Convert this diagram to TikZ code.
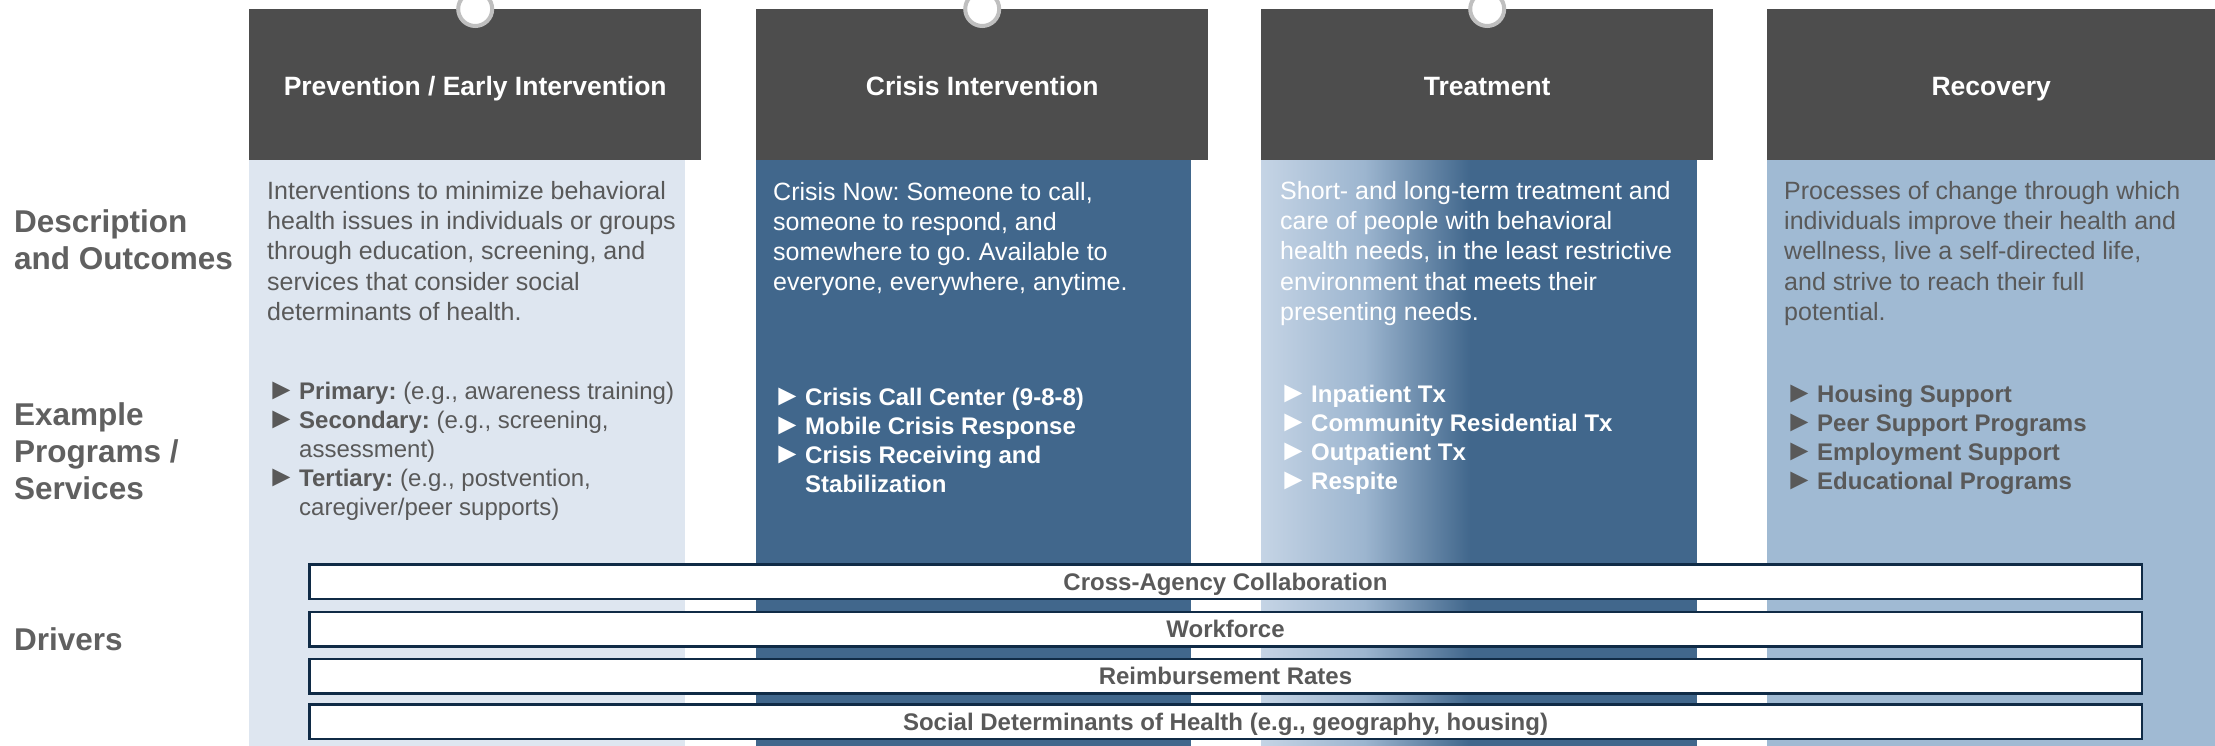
\documentclass[tikz,border=0pt]{standalone}
\usepackage{graphicx}
\usepackage{fontspec}
\setmainfont{Liberation Sans}
\definecolor{hdr}{RGB}{77,77,77}
\definecolor{cone}{RGB}{222,230,240}
\definecolor{ctwo}{RGB}{65,103,140}
\definecolor{cfour}{RGB}{160,186,211}
\definecolor{gone}{RGB}{197,212,229}
\definecolor{gtwo}{RGB}{156,181,207}
\definecolor{txtgray}{RGB}{89,89,89}
\definecolor{lblgray}{RGB}{96,96,96}
\definecolor{ring}{RGB}{191,191,191}
\definecolor{barline}{RGB}{16,43,70}
\frenchspacing
\newcommand\Ln[1]{\hbox{\strut#1}}
\newcommand\Bu[1]{\hbox{\strut\hbox to 31pt{\hskip-1.5pt\scalebox{1.25}{►}\hss}#1}}
\newcommand\Bc[1]{\hbox{\strut\hskip31pt #1}}
\begin{document}
\begin{tikzpicture}[x=1pt,y=-1pt,
  hdrbox/.style={fill=hdr,inner sep=0,minimum width=452,minimum height=151,anchor=north west,
    text=white,font=\fontsize{26.5}{30}\selectfont\bfseries,text height=22,text depth=0},
  bodybox/.style={inner sep=0,minimum width=436,minimum height=586,anchor=north west},
  pin/.style={circle,draw=ring,line width=4,fill=white,minimum size=34,inner sep=0},
  desc/.style={inner sep=0,anchor=base west,font=\fontsize{25}{30}\selectfont},
  bul/.style={inner sep=0,anchor=base west,font=\fontsize{24}{29}\selectfont},
  rowlbl/.style={inner sep=0,anchor=base west,text=lblgray,font=\fontsize{31.5}{37}\selectfont\bfseries},
  driver/.style={draw=barline,line width=2.5,fill=white,inner sep=0,minimum width=1832.5,minimum height=34.5,
    text=txtgray,font=\fontsize{24}{29}\selectfont\bfseries,text height=17,text depth=0}]
\useasboundingbox (0,0) rectangle (2215,746);
\fill[white] (0,0) rectangle (2215,746);
% column bodies
\node[bodybox,fill=cone] (b1) at (249,160) {};
\node[bodybox,fill=ctwo,minimum width=435] (b2) at (756,160) {};
\node[bodybox,fill=ctwo] (b3) at (1261,160) {};
\shade[left color=gone,right color=gtwo] (1261,160) rectangle (1365,746);
\shade[left color=gtwo,right color=ctwo] (1364.5,160) rectangle (1470,746);
\node[bodybox,fill=cfour,minimum width=448] (b4) at (1767,160) {};
% headers
\node[hdrbox] (h1) at (249,9) {Prevention / Early Intervention};
\node[hdrbox] (h2) at (756,9) {Crisis Intervention};
\node[hdrbox] (h3) at (1261,9) {Treatment};
\node[hdrbox,minimum width=448] (h4) at (1767,9) {Recovery};
% pins
\node[pin] (p1) at (h1.north) {};
\node[pin] (p2) at (h2.north) {};
\node[pin] (p3) at (h3.north) {};
% row labels
\node[rowlbl] (l1) at (14,232) {\vtop{\Ln{Description}\Ln{and Outcomes}}};
\node[rowlbl] (l2) at (14,425) {\vtop{\Ln{Example}\Ln{Programs /}\Ln{Services}}};
\node[rowlbl] (l3) at (14,650) {\vtop{\Ln{Drivers}}};
% column 1
\node[desc,text=txtgray] (d1) at (267,200) {\vtop{%
  \Ln{Interventions to minimize behavioral}
  \Ln{health issues in individuals or groups}
  \Ln{through education, screening, and}
  \Ln{services that consider social}
  \Ln{determinants of health.}}};
\node[bul,text=txtgray] (s1) at (268,399) {\vtop{%
  \Bu{\textbf{Primary:} (e.g., awareness training)}
  \Bu{\textbf{Secondary:} (e.g., screening,}
  \Bc{assessment)}
  \Bu{\textbf{Tertiary:} (e.g., postvention,}
  \Bc{caregiver/peer supports)}}};
% column 2
\node[desc,text=white] (d2) at (773,200.5) {\vtop{%
  \Ln{Crisis Now: Someone to call,}
  \Ln{someone to respond, and}
  \Ln{somewhere to go. Available to}
  \Ln{everyone, everywhere, anytime.}}};
\node[bul,text=white,font=\fontsize{24}{29}\selectfont\bfseries] (s2) at (774,405) {\vtop{%
  \Bu{Crisis Call Center (9-8-8)}
  \Bu{Mobile Crisis Response}
  \Bu{Crisis Receiving and}
  \Bc{Stabilization}}};
% column 3
\node[desc,text=white] (d3) at (1280,200) {\vtop{%
  \Ln{Short- and long-term treatment and}
  \Ln{care of people with behavioral}
  \Ln{health needs, in the least restrictive}
  \Ln{environment that meets their}
  \Ln{presenting needs.}}};
\node[bul,text=white,font=\fontsize{24}{29}\selectfont\bfseries] (s3) at (1280,402) {\vtop{%
  \Bu{Inpatient Tx}
  \Bu{Community Residential Tx}
  \Bu{Outpatient Tx}
  \Bu{Respite}}};
% column 4
\node[desc,text=txtgray] (d4) at (1784,200) {\vtop{%
  \Ln{Processes of change through which}
  \Ln{individuals improve their health and}
  \Ln{wellness, live a self-directed life,}
  \Ln{and strive to reach their full}
  \Ln{potential.}}};
\node[bul,text=txtgray,font=\fontsize{24}{29}\selectfont\bfseries] (s4) at (1786,402) {\vtop{%
  \Bu{Housing Support}
  \Bu{Peer Support Programs}
  \Bu{Employment Support}
  \Bu{Educational Programs}}};
% drivers
\node[driver] (r1) at (1225.5,581.5) {Cross-Agency Collaboration};
\node[driver] (r2) at (1225.5,629) {Workforce};
\node[driver] (r3) at (1225.5,676) {Reimbursement Rates};
\node[driver] (r4) at (1225.5,721.5) {Social Determinants of Health (e.g., geography, housing)};
\end{tikzpicture}
\end{document}
